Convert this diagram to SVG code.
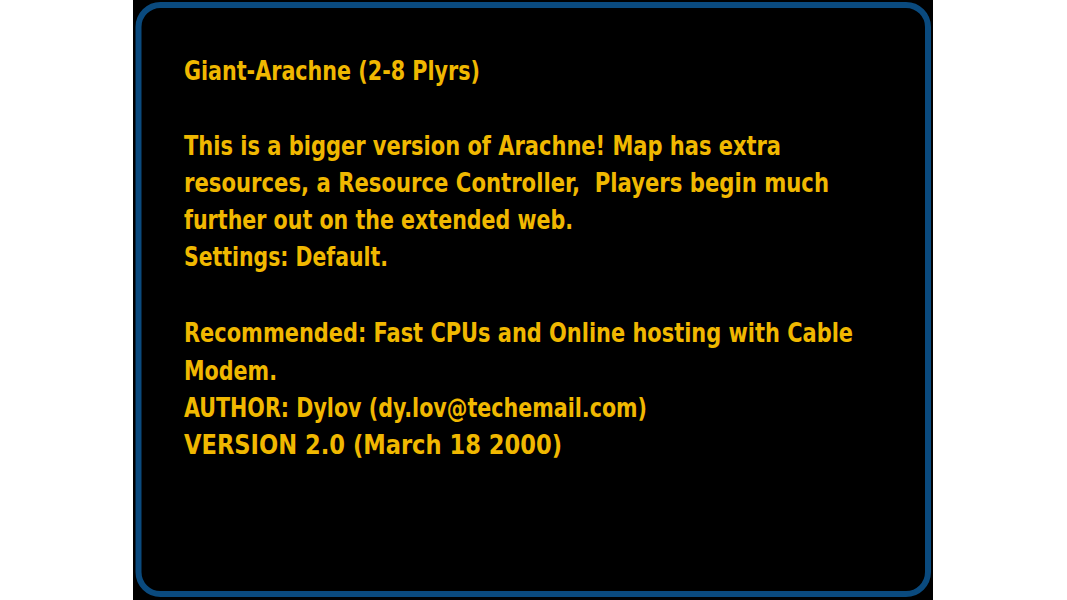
<svg xmlns="http://www.w3.org/2000/svg" width="1067" height="600" viewBox="0 0 1067 600">
<style>
.t{font-family:"DejaVu Sans Condensed","Liberation Sans",sans-serif;font-size:26px;font-weight:bold;fill:#F0B800;white-space:pre}
</style>
<rect width="1067" height="600" fill="#ffffff"/>
<g id="panel">
<rect x="133" y="0" width="800" height="600" fill="#000000"/>
<rect x="138.5" y="5" width="789.5" height="589" rx="22" ry="22" fill="none" stroke="#0A4A7E" stroke-width="6"/>
</g>
<g id="text">
<text class="t" x="184" y="80" textLength="296" lengthAdjust="spacingAndGlyphs">Giant-Arachne (2-8 Plyrs)</text>
<text class="t" x="184" y="155" textLength="597" lengthAdjust="spacingAndGlyphs">This is a bigger version of Arachne! Map has extra</text>
<text class="t" x="184" y="192" textLength="645" lengthAdjust="spacingAndGlyphs" xml:space="preserve">resources, a Resource Controller,  Players begin much</text>
<text class="t" x="184" y="229" textLength="389" lengthAdjust="spacingAndGlyphs">further out on the extended web.</text>
<text class="t" x="184" y="266" textLength="204" lengthAdjust="spacingAndGlyphs">Settings: Default.</text>
<text class="t" x="184" y="342" textLength="669" lengthAdjust="spacingAndGlyphs">Recommended: Fast CPUs and Online hosting with Cable</text>
<text class="t" x="184" y="379.5" textLength="93" lengthAdjust="spacingAndGlyphs">Modem.</text>
<text class="t" x="184" y="417" textLength="463" lengthAdjust="spacingAndGlyphs">AUTHOR: Dylov (dy.lov@techemail.com)</text>
<text class="t" x="184" y="454" textLength="378" lengthAdjust="spacingAndGlyphs">VERSION 2.0 (March 18 2000)</text>
</g>
</svg>
